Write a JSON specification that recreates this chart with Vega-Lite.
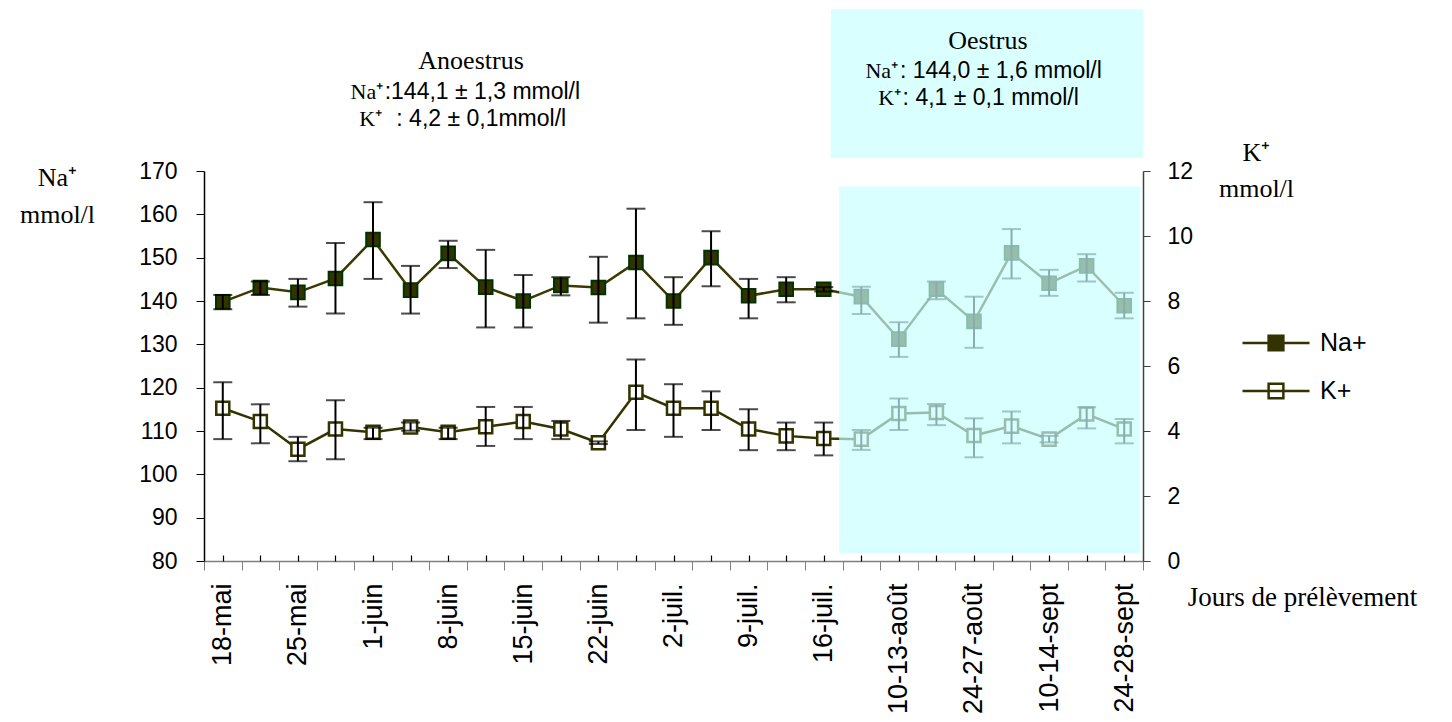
{
  "$schema": "https://vega.github.io/schema/vega-lite/v6.json",
  "width": 939,
  "height": 390,
  "autosize": {"type": "none"},
  "padding": {"left": 204, "top": 171, "right": 309, "bottom": 161},
  "background": "white",
  "config": {"view": {"stroke": null}, "axis": {"grid": false}},
  "datasets": {
    "series": [
      {"i": 0, "date": "18-mai", "na": 139.8, "na_lo": 138.1, "na_hi": 141.4, "k": 4.70, "k_lo": 3.75, "k_hi": 5.50},
      {"i": 1, "na": 143.1, "na_lo": 141.4, "na_hi": 144.5, "k": 4.29, "k_lo": 3.62, "k_hi": 4.82},
      {"i": 2, "date": "25-mai", "na": 142.0, "na_lo": 138.7, "na_hi": 145.1, "k": 3.44, "k_lo": 3.07, "k_hi": 3.82},
      {"i": 3, "na": 145.2, "na_lo": 137.1, "na_hi": 153.4, "k": 4.06, "k_lo": 3.13, "k_hi": 4.95},
      {"i": 4, "date": "1-juin", "na": 154.2, "na_lo": 145.1, "na_hi": 162.8, "k": 3.96, "k_lo": 3.75, "k_hi": 4.10},
      {"i": 5, "na": 142.5, "na_lo": 137.1, "na_hi": 148.1, "k": 4.12, "k_lo": 4.01, "k_hi": 4.26},
      {"i": 6, "date": "8-juin", "na": 151.0, "na_lo": 147.6, "na_hi": 153.9, "k": 3.96, "k_lo": 3.75, "k_hi": 4.10},
      {"i": 7, "na": 143.2, "na_lo": 133.9, "na_hi": 151.8, "k": 4.13, "k_lo": 3.54, "k_hi": 4.74},
      {"i": 8, "date": "15-juin", "na": 140.0, "na_lo": 133.9, "na_hi": 146.0, "k": 4.29, "k_lo": 3.75, "k_hi": 4.74},
      {"i": 9, "na": 143.6, "na_lo": 141.3, "na_hi": 145.5, "k": 4.06, "k_lo": 3.75, "k_hi": 4.31},
      {"i": 10, "date": "22-juin", "na": 143.1, "na_lo": 135.0, "na_hi": 150.2, "k": 3.64, "k_lo": 3.60, "k_hi": 3.68},
      {"i": 11, "na": 148.9, "na_lo": 136.0, "na_hi": 161.3, "k": 5.19, "k_lo": 4.03, "k_hi": 6.20},
      {"i": 12, "date": "2-juil.", "na": 140.0, "na_lo": 134.5, "na_hi": 145.5, "k": 4.70, "k_lo": 3.82, "k_hi": 5.44},
      {"i": 13, "na": 150.0, "na_lo": 143.4, "na_hi": 156.1, "k": 4.70, "k_lo": 4.03, "k_hi": 5.22},
      {"i": 14, "date": "9-juil.", "na": 141.2, "na_lo": 136.0, "na_hi": 145.1, "k": 4.06, "k_lo": 3.41, "k_hi": 4.67},
      {"i": 15, "na": 142.7, "na_lo": 139.7, "na_hi": 145.5, "k": 3.85, "k_lo": 3.41, "k_hi": 4.26},
      {"i": 16, "date": "16-juil.", "na": 142.7, "na_lo": 142.2, "na_hi": 143.2, "k": 3.77, "k_lo": 3.25, "k_hi": 4.26},
      {"i": 17, "na": 141.0, "na_lo": 137.0, "na_hi": 143.3, "k": 3.75, "k_lo": 3.42, "k_hi": 4.03},
      {"i": 18, "date": "10-13-août", "na": 131.2, "na_lo": 127.1, "na_hi": 135.1, "k": 4.54, "k_lo": 4.03, "k_hi": 5.00},
      {"i": 19, "na": 142.7, "na_lo": 140.4, "na_hi": 144.5, "k": 4.57, "k_lo": 4.18, "k_hi": 4.83},
      {"i": 20, "date": "24-27-août", "na": 135.3, "na_lo": 129.2, "na_hi": 141.0, "k": 3.86, "k_lo": 3.19, "k_hi": 4.39},
      {"i": 21, "na": 151.1, "na_lo": 145.2, "na_hi": 156.6, "k": 4.15, "k_lo": 3.62, "k_hi": 4.60},
      {"i": 22, "date": "10-14-sept", "na": 144.1, "na_lo": 141.2, "na_hi": 147.2, "k": 3.75, "k_lo": 3.65, "k_hi": 3.85},
      {"i": 23, "na": 148.1, "na_lo": 144.5, "na_hi": 150.8, "k": 4.52, "k_lo": 4.08, "k_hi": 4.73},
      {"i": 24, "date": "24-28-sept", "na": 138.9, "na_lo": 136.0, "na_hi": 141.9, "k": 4.06, "k_lo": 3.62, "k_hi": 4.37}
    ],
    "zones": [
      {"zone": "Oestrus plot", "x1": 16.41, "x2": 24.43, "y1": 0.246, "y2": 11.52},
      {"zone": "Oestrus box", "x1": 16.19, "x2": 24.51, "y1": 12.40, "y2": 16.98}
    ],
    "notes": [
      {"kind": "title", "text": "Anoestrus", "x": 6.61, "y": 15.14},
      {"kind": "title", "text": "Oestrus", "x": 20.37, "y": 15.75},
      {"kind": "ion", "text": "Na⁺", "x": 4.27, "y": 14.22},
      {"kind": "ion", "text": "K⁺", "x": 4.24, "y": 13.38},
      {"kind": "ion", "text": "Na⁺", "x": 17.98, "y": 14.86},
      {"kind": "ion", "text": "K⁺", "x": 18.06, "y": 14.03},
      {"kind": "value", "text": ":144,1 ± 1,3 mmol/l", "x": 4.31, "y": 14.22},
      {"kind": "value", "text": ": 4,2 ± 0,1mmol/l", "x": 4.62, "y": 13.38},
      {"kind": "value", "text": ": 144,0 ± 1,6 mmol/l", "x": 18.03, "y": 14.86},
      {"kind": "value", "text": ": 4,1 ± 0,1 mmol/l", "x": 18.1, "y": 14.03}
    ]
  },
  "layer": [
    {
      "data": {"name": "series"},
      "encoding": {
        "x": {
          "field": "i", "type": "quantitative",
          "scale": {"domain": [-0.5, 24.5], "nice": false, "zero": false},
          "axis": {
            "orient": "bottom",
            "values": [-0.5, 0.5, 1.5, 2.5, 3.5, 4.5, 5.5, 6.5, 7.5, 8.5, 9.5, 10.5, 11.5, 12.5, 13.5, 14.5, 15.5, 16.5, 17.5, 18.5, 19.5, 20.5, 21.5, 22.5, 23.5, 24.5],
            "labels": false, "ticks": true, "tickSize": 9, "tickColor": "#808080",
            "domainColor": "#808080", "domainWidth": 1.5, "grid": false,
            "title": "Jours de prélèvement", "titleFont": "Liberation Serif", "titleFontSize": 27,
            "titleFontWeight": "normal", "titleColor": "black", "titleAngle": 0, "titleAlign": "center",
            "titleBaseline": "alphabetic", "titleX": 1098, "titleY": 44
          }
        }
      },
      "layer": [
        {
          "mark": {"type": "line", "color": "#3a3a00", "strokeWidth": 2.5},
          "encoding": {
            "y": {
              "field": "na", "type": "quantitative",
              "scale": {"domain": [80, 170], "nice": false, "zero": false},
              "axis": {
                "orient": "left", "values": [80, 90, 100, 110, 120, 130, 140, 150, 160, 170],
                "tickSize": 8, "tickColor": "black", "domainColor": "black", "domainWidth": 1.5,
                "labelFont": "Liberation Sans", "labelFontSize": 23, "labelColor": "black", "labelPadding": 19,
                "grid": false,
                "title": ["Na⁺", "mmol/l"], "titleFont": "Liberation Serif", "titleFontSize": 26,
                "titleFontWeight": "normal", "titleColor": "black", "titleAngle": 0, "titleAlign": "center",
                "titleBaseline": "alphabetic", "titleX": -147, "titleY": 14, "titleLineHeight": 37
              }
            }
          }
        },
        {
          "mark": {"type": "point", "shape": "square", "filled": true, "size": 185, "stroke": "#003300", "strokeWidth": 2, "opacity": 1},
          "encoding": {
            "y": {"field": "na", "type": "quantitative"},
            "fill": {
              "datum": "Na+",
              "scale": {"domain": ["Na+", "K+"], "range": ["#333300", "#ffffff"]},
              "legend": {
                "orient": "none", "legendX": 1037, "legendY": 137, "title": null, "padding": 0,
                "symbolType": "M-1,0H1M-0.22,-0.22H0.22V0.22H-0.22Z", "symbolSize": 4489,
                "symbolStrokeColor": "#333300", "symbolStrokeWidth": 2.5,
                "labelFont": "Liberation Sans", "labelFontSize": 25, "labelColor": "black",
                "labelOffset": 9, "rowPadding": -22
              }
            }
          }
        },
        {
          "mark": {"type": "rule", "color": "black", "strokeWidth": 2},
          "encoding": {"y": {"field": "na_lo", "type": "quantitative"}, "y2": {"field": "na_hi"}}
        },
        {
          "mark": {"type": "tick", "orient": "horizontal", "color": "black", "thickness": 2, "size": 19},
          "encoding": {"y": {"field": "na_lo", "type": "quantitative"}}
        },
        {
          "mark": {"type": "tick", "orient": "horizontal", "color": "black", "thickness": 2, "size": 19},
          "encoding": {"y": {"field": "na_hi", "type": "quantitative"}}
        }
      ]
    },
    {
      "data": {"name": "series"},
      "encoding": {
        "x": {
          "field": "i", "type": "quantitative",
          "axis": {
            "orient": "bottom",
            "values": [0, 1, 2, 3, 4, 5, 6, 7, 8, 9, 10, 11, 12, 13, 14, 15, 16, 17, 18, 19, 20, 21, 22, 23, 24],
            "domain": false, "ticks": true, "tickSize": -6, "tickColor": "black", "tickWidth": 1.2,
            "labelExpr": "['18-mai','','25-mai','','1-juin','','8-juin','','15-juin','','22-juin','','2-juil.','','9-juil.','','16-juil.','','10-13-août','','24-27-août','','10-14-sept','','24-28-sept'][datum.value]",
            "labelAngle": -90, "labelAlign": "right", "labelBaseline": "middle",
            "labelFont": "Liberation Sans", "labelFontSize": 27, "labelColor": "black",
            "labelPadding": 28, "labelOverlap": false, "labelFlush": false, "labelBound": false,
            "title": null, "grid": false
          }
        }
      },
      "layer": [
        {
          "mark": {"type": "line", "color": "#333300", "strokeWidth": 2.5},
          "encoding": {
            "y": {
              "field": "k", "type": "quantitative",
              "scale": {"domain": [0, 12], "nice": false, "zero": false},
              "axis": {
                "orient": "right", "values": [0, 2, 4, 6, 8, 10, 12],
                "tickSize": 7, "tickColor": "#404040", "domainColor": "#404040", "domainWidth": 1.5,
                "labelFont": "Liberation Sans", "labelFontSize": 23, "labelColor": "black", "labelPadding": 17,
                "grid": false,
                "title": ["K⁺", "mmol/l"], "titleFont": "Liberation Serif", "titleFontSize": 26,
                "titleFontWeight": "normal", "titleColor": "black", "titleAngle": 0, "titleAlign": "center",
                "titleBaseline": "alphabetic", "titleX": 113, "titleY": -11, "titleLineHeight": 36
              }
            }
          }
        },
        {
          "mark": {"type": "point", "shape": "square", "filled": true, "size": 170, "stroke": "#333300", "strokeWidth": 2.5, "opacity": 1},
          "encoding": {
            "y": {"field": "k", "type": "quantitative"},
            "fill": {"datum": "K+"}
          }
        },
        {
          "mark": {"type": "rule", "color": "black", "strokeWidth": 2},
          "encoding": {"y": {"field": "k_lo", "type": "quantitative"}, "y2": {"field": "k_hi"}}
        },
        {
          "mark": {"type": "tick", "orient": "horizontal", "color": "black", "thickness": 2, "size": 19},
          "encoding": {"y": {"field": "k_lo", "type": "quantitative"}}
        },
        {
          "mark": {"type": "tick", "orient": "horizontal", "color": "black", "thickness": 2, "size": 19},
          "encoding": {"y": {"field": "k_hi", "type": "quantitative"}}
        }
      ]
    },
    {
      "encoding": {
        "x": {"type": "quantitative", "axis": {"orient": "bottom", "domain": false, "ticks": false, "labels": false, "title": null, "grid": false}}
      },
      "layer": [
        {
          "data": {"name": "zones"},
          "mark": {"type": "rect", "fill": "#c8ffff", "opacity": 0.68, "clip": false},
          "encoding": {
            "x": {"field": "x1", "type": "quantitative"},
            "x2": {"field": "x2"},
            "y": {"field": "y1", "type": "quantitative", "scale": {"domain": [0, 12], "nice": false, "zero": false}, "axis": {"orient": "right", "domain": false, "ticks": false, "labels": false, "title": null, "grid": false}},
            "y2": {"field": "y2"}
          }
        },
        {
          "data": {"name": "notes"},
          "transform": [{"filter": "datum.kind === 'title'"}],
          "mark": {"type": "text", "font": "Liberation Serif", "fontSize": 26, "color": "black", "align": "center", "baseline": "alphabetic", "clip": false},
          "encoding": {
            "x": {"field": "x", "type": "quantitative"},
            "y": {"field": "y", "type": "quantitative"},
            "text": {"field": "text"}
          }
        },
        {
          "data": {"name": "notes"},
          "transform": [{"filter": "datum.kind === 'ion'"}],
          "mark": {"type": "text", "font": "Liberation Serif", "fontSize": 22, "color": "black", "align": "right", "baseline": "alphabetic", "clip": false},
          "encoding": {
            "x": {"field": "x", "type": "quantitative"},
            "y": {"field": "y", "type": "quantitative"},
            "text": {"field": "text"}
          }
        },
        {
          "data": {"name": "notes"},
          "transform": [{"filter": "datum.kind === 'value'"}],
          "mark": {"type": "text", "font": "Liberation Sans", "fontSize": 23, "color": "black", "align": "left", "baseline": "alphabetic", "clip": false},
          "encoding": {
            "x": {"field": "x", "type": "quantitative"},
            "y": {"field": "y", "type": "quantitative"},
            "text": {"field": "text"}
          }
        }
      ]
    }
  ],
  "resolve": {"scale": {"y": "independent"}, "axis": {"x": "independent", "y": "independent"}}
}
